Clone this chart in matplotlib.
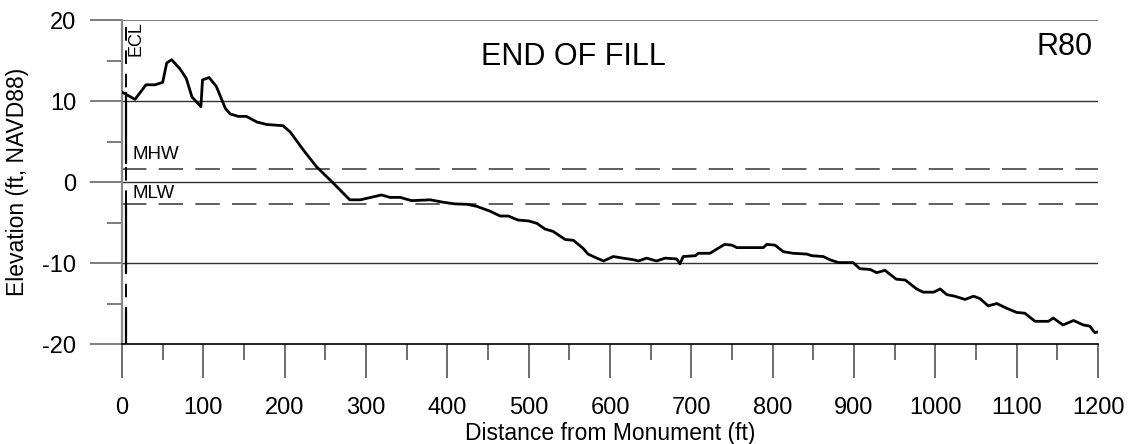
import matplotlib
matplotlib.use("Agg")
import matplotlib.pyplot as plt
from matplotlib.ticker import MultipleLocator

plt.rcParams['font.family'] = ['Liberation Sans', 'DejaVu Sans']
plt.rcParams['axes.unicode_minus'] = False

# ---- data ----
profile_x = [0, 16, 29.5, 40.6, 50, 55, 61, 71, 79, 86, 97, 99, 107, 116, 127, 133, 143, 153,
             166, 178, 198, 206.6, 223, 239, 260, 280, 293, 319, 329.5, 342, 356, 379, 395,
             409, 424, 436, 452.5, 465, 475, 487, 499.6, 510, 520, 530, 545, 555, 567, 573,
             581.6, 592, 604, 616, 629, 635, 645, 657, 668, 682, 686, 690, 705, 708.6, 723,
             731, 741, 750, 756, 788.5, 792.7, 803, 813, 825, 842, 848, 862, 870.5, 881, 899,
             907, 920, 928, 938, 952, 963, 977, 985, 998, 1006, 1014, 1024, 1036.5, 1047,
             1055, 1065, 1075.5, 1088, 1100, 1110, 1122.6, 1139, 1145, 1157, 1170, 1182,
             1190, 1196, 1200]
profile_y = [11.1, 10.2, 12.0, 12.0, 12.3, 14.7, 15.1, 14.0, 12.8, 10.5, 9.3, 12.6, 12.9, 11.8,
             9.1, 8.4, 8.1, 8.1, 7.4, 7.1, 6.95, 6.2, 3.95, 1.9, -0.16, -2.2, -2.2, -1.6, -1.9,
             -1.9, -2.3, -2.2, -2.5, -2.7, -2.75, -3.0, -3.6, -4.2, -4.2, -4.7, -4.8, -5.1,
             -5.8, -6.1, -7.1, -7.2, -8.2, -8.9, -9.3, -9.75, -9.2, -9.4, -9.6, -9.75, -9.4,
             -9.75, -9.4, -9.5, -10.1, -9.2, -9.1, -8.8, -8.8, -8.3, -7.7, -7.8, -8.1, -8.1,
             -7.7, -7.8, -8.6, -8.8, -8.9, -9.1, -9.2, -9.6, -9.95, -9.95, -10.7, -10.8,
             -11.2, -10.9, -12.0, -12.1, -13.2, -13.6, -13.6, -13.2, -13.9, -14.1, -14.5,
             -14.1, -14.4, -15.3, -15.0, -15.6, -16.1, -16.2, -17.2, -17.2, -16.8, -17.65,
             -17.1, -17.65, -17.8, -18.6, -18.5]

ecl_x = 5
wall_segments = [(11.0, 2.3), (-2.7, -11.1), (-15.5, -20.0)]
mhw = 1.6
mlw = -2.7
grid_levels = [20, 10, 0, -10]
x_ticks = list(range(0, 1201, 100))
y_ticks = [-20, -10, 0, 10, 20]
title = "END OF FILL"
profile_name = "R80"

# ---- figure ----
W, H = 1131, 444
fig = plt.figure(figsize=(W / 100, H / 100), dpi=100)
ax = fig.add_axes([122 / W, 1 - 344 / H, 976 / W, 324 / H])
ax.set_xlim(0, 1200)
ax.set_ylim(-20, 20)

for s in ['top', 'right']:
    ax.spines[s].set_visible(False)
ax.spines['left'].set_color('#888888')
ax.spines['left'].set_linewidth(1.6)
ax.spines['bottom'].set_color('black')
ax.spines['bottom'].set_linewidth(1.2)

for lev in grid_levels:
    ax.axhline(lev, color='#666666' if lev == 20 else '#333333', lw=1.2 if lev == 20 else 1.0,
               zorder=1)

for lev in (mhw, mlw):
    ax.axhline(lev, color='#333333', lw=1.1, dashes=(16, 8), zorder=1)

# ECL line and structure
ax.plot([ecl_x, ecl_x], [-20, 20], color='black', lw=1.4, dashes=(7, 5), zorder=2)
for y0, y1 in wall_segments:
    ax.plot([ecl_x, ecl_x], [y0, y1], color='black', lw=1.6, zorder=2)

ax.plot(profile_x, profile_y, color='black', lw=2.0, zorder=3, solid_joinstyle='round')

# ticks
ax.set_xticks(x_ticks)
ax.xaxis.set_minor_locator(MultipleLocator(50))
ax.set_yticks(y_ticks)
ax.yaxis.set_minor_locator(MultipleLocator(5))
ax.tick_params(axis='x', which='major', length=24.5, width=1.2, color='#555555', pad=14,
               labelsize=17)
ax.tick_params(axis='x', which='minor', length=11.5, width=1.2, color='#555555')
ax.tick_params(axis='y', which='major', length=23, width=1.2, color='#666666', pad=10,
               labelsize=17)
ax.tick_params(axis='y', which='minor', length=11, width=1.2, color='#666666')

# labels
ax.text(13.5, 2.8, "MHW", fontsize=13.5, ha='left', va='baseline')
ax.text(13.5, -2.0, "MLW", fontsize=13.5, ha='left', va='baseline')
ax.text(7.0, 19.8, "ECL", fontsize=13, rotation=90, ha='left', va='top')
ax.text(554.5, 15.4, title, fontsize=22, ha='center', va='center')
ax.text(1193, 16.7, profile_name, fontsize=22, ha='right', va='center')

fig.text(18 / W, 1 - 182 / H, "Elevation (ft, NAVD88)", rotation=90, fontsize=16.5,
         ha='center', va='center')
fig.text(610 / W, 1 - 433 / H, "Distance from Monument (ft)", fontsize=16.5,
         ha='center', va='center')

fig.savefig("out.png", dpi=100)
